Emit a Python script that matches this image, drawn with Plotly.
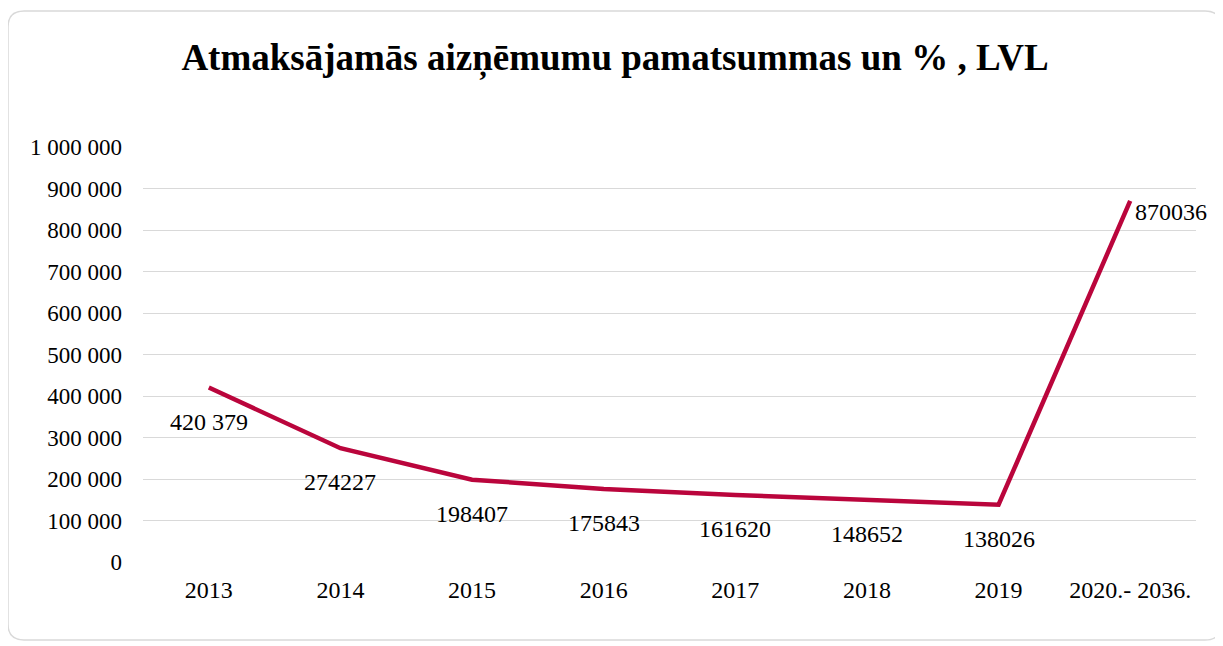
import plotly.graph_objects as go

categories = ["2013", "2014", "2015", "2016", "2017", "2018", "2019", "2020.- 2036."]
values = [420379, 274227, 198407, 175843, 161620, 148652, 138026, 870036]
labels = ["420 379", "274227", "198407", "175843", "161620", "148652", "138026", "870036"]
y_ticks = [0, 100000, 200000, 300000, 400000, 500000, 600000, 700000, 800000, 900000, 1000000]

# page body adds an 8px offset, so the figure is sized to the visible area
W, H = 1215, 638
L, R, T, B = 135, 27, 139, 84
pw, ph = W - L - R, H - T - B

FONT = "Liberation Serif, Times New Roman, serif"
LINE = "#BA053C"

fig = go.Figure()
fig.add_trace(go.Scatter(x=list(range(len(categories))), y=values, mode="lines",
                         line=dict(color=LINE, width=4.5), hoverinfo="skip"))

for i, (v, t) in enumerate(zip(values, labels)):
    last = i == len(categories) - 1
    fig.add_annotation(x=i, y=v, text=t, showarrow=False,
                       xanchor="left" if last else "center",
                       yanchor="middle",
                       xshift=3 if last else 0,
                       yshift=-11 if last else -34,
                       font=dict(family=FONT, size=24, color="#000"))

# rounded border
x0, x1 = (0 - L) / pw, (1213 - L) / pw
y1, y0 = (H - B - 3) / ph, (H - B - 632) / ph
rx, ry = 16 / pw, 16 / ph
path = (f"M {x0+rx},{y1} L {x1-rx},{y1} Q {x1},{y1} {x1},{y1-ry} "
        f"L {x1},{y0+ry} Q {x1},{y0} {x1-rx},{y0} L {x0+rx},{y0} "
        f"Q {x0},{y0} {x0},{y0+ry} L {x0},{y1-ry} Q {x0},{y1} {x0+rx},{y1} Z")
fig.add_shape(type="path", path=path, xref="paper", yref="paper",
              line=dict(color="#D9D9D9", width=1.5), fillcolor="rgba(0,0,0,0)", layer="below")

fig.update_layout(
    width=W, height=H,
    margin=dict(l=L, r=R, t=T, b=B, autoexpand=False),
    paper_bgcolor="white", plot_bgcolor="white",
    separators=". ",
    showlegend=False,
    font=dict(family=FONT, size=23, color="#000"),
    title=dict(text="<b>Atmaksājamās aizņēmumu pamatsummas un % , LVL</b>",
               x=607 / W, xanchor="center", y=1 - 49 / H, yanchor="middle",
               font=dict(family=FONT, size=37, color="#000")),
    xaxis=dict(tickmode="array", tickvals=list(range(len(categories))), ticktext=categories,
               range=[-0.5, len(categories) - 0.5],
               showgrid=False, showline=False, zeroline=False, ticks="",
               ticklabelstandoff=11, tickfont=dict(family=FONT, size=24)),
    yaxis=dict(range=[0, 1000000], tickvals=y_ticks, tickformat=",d",
               showgrid=True, gridcolor="#D9D9D9", gridwidth=1.3,
               zeroline=False, showline=False, ticks="",
               ticklabelstandoff=20, tickfont=dict(family=FONT, size=23)),
)

fig.write_html("out.html")
